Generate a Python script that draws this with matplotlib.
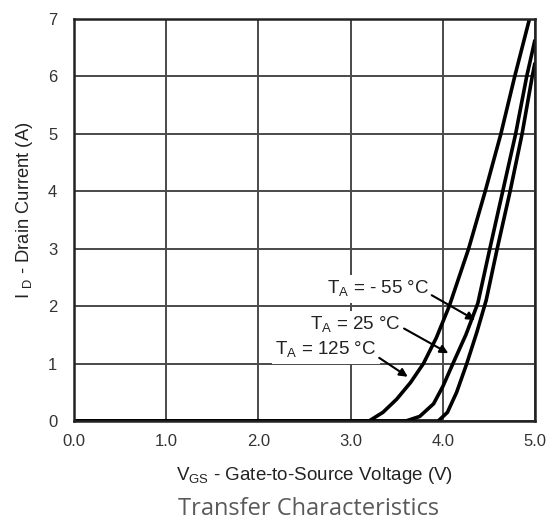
import matplotlib
matplotlib.use("Agg")
import matplotlib.pyplot as plt

# Data
vgs_125 = [0.0, 3.20, 3.35, 3.50, 3.65, 3.79, 3.93, 4.07, 4.28, 4.46, 4.63, 4.78, 4.94]
id_125 = [0.0, 0.0, 0.15, 0.38, 0.67, 1.0, 1.45, 2.0, 3.0, 4.0, 5.0, 6.0, 7.0]

vgs_25 = [0.0, 3.60, 3.75, 3.90, 4.00, 4.11, 4.25, 4.38, 4.51, 4.65, 4.79, 4.91, 5.00]
id_25 = [0.0, 0.0, 0.08, 0.30, 0.60, 1.0, 1.5, 2.05, 3.0, 4.0, 5.0, 6.0, 6.64]

vgs_m55 = [0.0, 3.95, 4.05, 4.15, 4.26, 4.37, 4.47, 4.59, 4.73, 4.86, 4.97, 5.00]
id_m55 = [0.0, 0.0, 0.15, 0.50, 1.0, 1.55, 2.1, 3.0, 4.0, 5.0, 6.0, 6.24]

x_ticks = [0.0, 1.0, 2.0, 3.0, 4.0, 5.0]
x_tick_labels = ["0.0", "1.0", "2.0", "3.0", "4.0", "5.0"]
y_ticks = [0, 1, 2, 3, 4, 5, 6, 7]

labels = [r"T$_\mathregular{A}$ = - 55 °C", r"T$_\mathregular{A}$ = 25 °C", r"T$_\mathregular{A}$ = 125 °C"]
label_xy = [(3.30, 2.30), (3.05, 1.67), (2.73, 1.24)]
arrow_tail = [(3.88, 2.19), (3.58, 1.61), (3.31, 1.10)]
arrow_head = [(4.35, 1.76), (4.06, 1.18), (3.62, 0.77)]

plt.rcParams["font.family"] = ["Liberation Sans", "DejaVu Sans"]
plt.rcParams["mathtext.fontset"] = "custom"
plt.rcParams["mathtext.rm"] = "Liberation Sans"

W, H = 557, 527
fig = plt.figure(figsize=(W / 100, H / 100), dpi=100)
ax = fig.add_axes([74 / W, 1 - 421 / H, (535 - 74) / W, (421 - 19) / H])

ax.set_xlim(0, 5)
ax.set_ylim(0, 7)
ax.set_xticks(x_ticks)
ax.set_xticklabels(x_tick_labels)
ax.set_yticks(y_ticks)
ax.tick_params(axis="x", length=0, labelsize=12, labelcolor="#333333", pad=9)
ax.tick_params(axis="y", length=0, labelsize=12, labelcolor="#333333", pad=12)
ax.grid(True, color="#4a4a4a", linewidth=1.4)
ax.set_axisbelow(True)
for s in ax.spines.values():
    s.set_linewidth(1.8)
    s.set_color("#222222")

for vx, iy in [(vgs_125, id_125), (vgs_25, id_25), (vgs_m55, id_m55)]:
    ax.plot(vx, iy, color="black", linewidth=2.6, solid_capstyle="butt", clip_on=True)

for lab, (tx, ty), tail, head in zip(labels, label_xy, arrow_tail, arrow_head):
    ax.text(tx, ty, lab, ha="center", va="center", fontsize=13.5, color="#222222",
            bbox=dict(facecolor="white", edgecolor="none", pad=2.5), zorder=3)
    ax.annotate("", xy=head, xytext=tail,
                arrowprops=dict(arrowstyle="-|>", color="black", lw=1.5, mutation_scale=12,
                                shrinkA=0, shrinkB=0), zorder=4)

fig.text(314 / W, 1 - 475 / H, r"V$_\mathregular{GS}$ - Gate-to-Source Voltage (V)",
         ha="center", va="center", fontsize=13.5, color="#222222")
fig.text(25 / W, 1 - 210 / H, r"I $_\mathregular{D}$ - Drain Current (A)", rotation=90,
         ha="center", va="center", fontsize=13.2, color="#222222")

fig.text(309 / W, 1 - 509 / H, "Transfer Characteristics", ha="center", va="center",
         fontsize=17, color="#5a5a5a", family="Open Sans")

fig.savefig("out.png", dpi=100)
